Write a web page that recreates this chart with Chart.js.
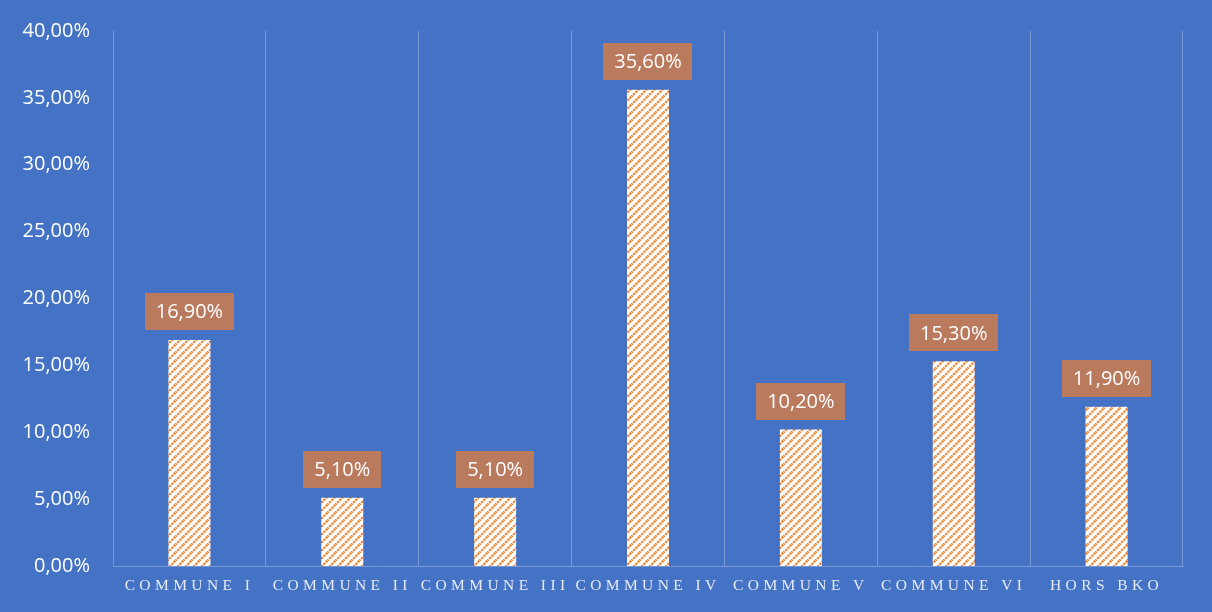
<!DOCTYPE html>
<html>
<head>
<meta charset="utf-8">
<script src="https://cdn.jsdelivr.net/npm/chart.js@4/dist/chart.umd.min.js"></script>
<style>
  html, body { margin: 0; padding: 0; background: #4472C4; }
  #wrap { width: 1212px; height: 612px; position: relative; }
</style>
</head>
<body>
<div id="wrap"><canvas id="c" width="1212" height="612"></canvas></div>
<script>
const categories = ["COMMUNE I", "COMMUNE II", "COMMUNE III", "COMMUNE IV", "COMMUNE V", "COMMUNE VI", "HORS BKO"];
const values = [16.9, 5.1, 5.1, 35.6, 10.2, 15.3, 11.9];
const yTicks = [0, 5, 10, 15, 20, 25, 30, 35, 40];

const BG = '#4472C4';
const GRID = '#7A98D6';
const LABEL_BOX = '#B97A5E';
const NUM_FONT = '20px "Open Sans"';
const CAT_FONT = '15.5px "Liberation Serif"';

function fmt(v) { return v.toFixed(2).replace('.', ',') + '%'; }

function makeHatch() {
  const s = 8;
  const pc = document.createElement('canvas');
  pc.width = s; pc.height = s;
  const p = pc.getContext('2d');
  p.fillStyle = '#ffffff';
  p.fillRect(0, 0, s, s);
  p.strokeStyle = '#EE7A24';
  p.lineWidth = 2.2;
  p.setLineDash([2.2, 1]);
  p.beginPath();
  p.moveTo(-1, s + 1); p.lineTo(s + 1, -1);
  p.moveTo(-1, 1); p.lineTo(1, -1);
  p.moveTo(s - 1, s + 1); p.lineTo(s + 1, s - 1);
  p.stroke();
  return p.createPattern(pc, 'repeat');
}

const bgPlugin = {
  id: 'bg',
  beforeDraw(chart) {
    const ctx = chart.ctx;
    ctx.save();
    ctx.fillStyle = BG;
    ctx.fillRect(0, 0, chart.width, chart.height);
    ctx.restore();
  }
};

const labelPlugin = {
  id: 'valLabels',
  afterDatasetsDraw(chart) {
    const ctx = chart.ctx;
    const meta = chart.getDatasetMeta(0);
    ctx.save();
    ctx.font = NUM_FONT;
    meta.data.forEach((bar, i) => {
      const txt = fmt(values[i]);
      const w = ctx.measureText(txt).width + 22;
      const h = 37;
      const bottom = bar.y - 10;
      ctx.fillStyle = LABEL_BOX;
      ctx.fillRect(Math.round(bar.x - w / 2), Math.round(bottom - h), Math.round(w), h);
      ctx.fillStyle = '#ffffff';
      ctx.textAlign = 'center';
      ctx.textBaseline = 'middle';
      ctx.fillText(txt, bar.x, bottom - h / 2 + 1);
    });
    ctx.restore();
  }
};

const catLabelPlugin = {
  id: 'catLabels',
  afterDraw(chart) {
    const ctx = chart.ctx;
    const xs = chart.scales.x;
    const spacing = 4.4;
    ctx.save();
    ctx.font = CAT_FONT;
    ctx.fillStyle = '#E6EBF5';
    ctx.textBaseline = 'middle';
    ctx.textAlign = 'left';
    categories.forEach((c, i) => {
      const cx = xs.getPixelForValue(i);
      const chars = Array.from(c);
      let total = 0;
      const ws = chars.map(ch => ctx.measureText(ch).width);
      ws.forEach(w => total += w + spacing);
      let x = cx - total / 2;
      chars.forEach((ch, k) => {
        ctx.fillText(ch, x, 586);
        x += ws[k] + spacing;
      });
    });
    ctx.restore();
  }
};

new Chart(document.getElementById('c'), {
  type: 'bar',
  data: {
    labels: categories,
    datasets: [{
      data: values,
      backgroundColor: makeHatch(),
      borderWidth: 0,
      categoryPercentage: 1,
      barPercentage: 0.275
    }]
  },
  options: {
    responsive: false,
    devicePixelRatio: 1,
    animation: false,
    layout: { padding: { top: 31, right: 29, left: 0, bottom: 0 } },
    plugins: { legend: { display: false }, tooltip: { enabled: false } },
    scales: {
      x: {
        grid: { display: true, offset: true, color: GRID, lineWidth: 1, drawTicks: false },
        border: { display: true, color: GRID, width: 1 },
        ticks: { color: 'rgba(0,0,0,0)', font: { size: 15, family: 'Liberation Serif' } },
        afterFit(scale) { scale.height = 46; }
      },
      y: {
        min: 0, max: 40,
        afterBuildTicks(scale) { scale.ticks = yTicks.map(v => ({ value: v })); },
        grid: { display: false, drawTicks: false },
        border: { display: false },
        ticks: {
          color: '#ffffff',
          padding: 23,
          font: { size: 20, family: 'Open Sans' },
          callback: (v) => fmt(v)
        },
        afterFit(scale) { scale.width = 113; scale.paddingTop = 0; scale.paddingBottom = 0; }
      }
    }
  },
  plugins: [bgPlugin, labelPlugin, catLabelPlugin]
});
</script>
</body>
</html>
